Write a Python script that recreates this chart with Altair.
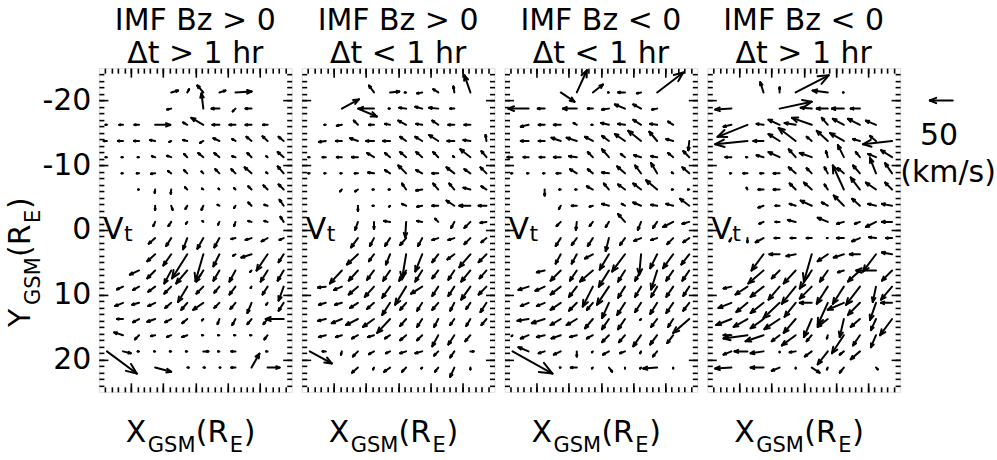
import altair as alt
import pandas as pd

# Bin centres of the velocity grid (R_E)
X_CENTERS = [-33.75, -31.25, -28.75, -26.25, -23.75, -21.25,
             -18.75, -16.25, -13.75, -11.25, -8.75, -6.25]
Y_CENTERS = [-21.25, -18.75, -16.25, -13.75, -11.25, -8.75, -6.25, -3.75, -1.25,
             1.25, 3.75, 6.25, 8.75, 11.25, 13.75, 16.25, 18.75, 21.25]

TITLES = [("IMF Bz > 0", "\u0394t > 1 hr"),
          ("IMF Bz > 0", "\u0394t < 1 hr"),
          ("IMF Bz < 0", "\u0394t < 1 hr"),
          ("IMF Bz < 0", "\u0394t > 1 hr")]

# Mean transverse flow per bin: (column, row, Vx km/s, Vy km/s)
VT_BZN_LONG = [
    (4, 0, 15, -4), (5, 0, 4, -7), (6, 0, -13, -15), (7, 0, 13, -4), (8, 0, 35, -2),
    (4, 1, -9, 2), (6, 1, -4, -33), (7, 1, -17, 0), (8, 1, -6, 6), (9, 1, -13, 0),
    (0, 2, -3, 0), (1, 2, -8, 0), (2, 2, -10, 0), (3, 2, 33, 0), (5, 2, -9, -5), (6, 2, -26, -15),
    (7, 2, -15, 0), (8, 2, -13, 0), (9, 2, -13, 0), (10, 2, -10, 0),
    (0, 3, -7, 0), (1, 3, -11, 0), (2, 3, -11, 0), (3, 3, -11, -2), (4, 3, -4, 2), (5, 3, -9, -2),
    (6, 3, -7, 4), (7, 3, -13, -6), (8, 3, -7, -4), (9, 3, -11, -9), (10, 3, -11, -10), (11, 3, -11, -9),
    (0, 4, -3, 0), (1, 4, -3, 0), (2, 4, -3, 0), (3, 4, -7, -2), (4, 4, -9, -3), (5, 4, -7, -7),
    (6, 4, -11, -9), (7, 4, -11, -9), (8, 4, -7, -2), (9, 4, -9, -9), (10, 4, -3, -2), (11, 4, -13, -11),
    (1, 5, -3, 0), (2, 5, -5, 0), (3, 5, -9, 1), (4, 5, -7, -5), (5, 5, -7, -7), (6, 5, -4, -4),
    (7, 5, -9, -9), (8, 5, -9, -9), (9, 5, -15, -13), (10, 5, -3, -2), (11, 5, -13, -15),
    (2, 6, -2, 0), (3, 6, -1, 7), (4, 6, -1, 9), (5, 6, -5, -5), (6, 6, -3, -2), (7, 6, -2, -2),
    (8, 6, -3, -3), (9, 6, -7, -7), (10, 6, -9, -9), (11, 6, -11, -11),
    (3, 7, 0, 9), (4, 7, 3, 9), (5, 7, -4, 7), (6, 7, -4, 9), (7, 7, -4, -2), (8, 7, -3, 5),
    (9, 7, -7, -7), (10, 7, -7, -2), (11, 7, -9, -13),
    (3, 8, -4, 9), (4, 8, -6, 9), (5, 8, -3, 4), (6, 8, -2, -2), (7, 8, -3, 6), (8, 8, -3, 9),
    (9, 8, -7, -2), (10, 8, -7, -2), (11, 8, -7, -11),
    (3, 9, -14, 12), (4, 9, -11, 17), (5, 9, -9, 24), (6, 9, -13, 23), (7, 9, -11, 20), (8, 9, -9, 2),
    (9, 9, -13, 4), (10, 9, -13, 7), (11, 9, -9, 4),
    (3, 10, -17, 15), (4, 10, -17, 24), (5, 10, -33, 52), (6, 10, -17, 58), (7, 10, -13, 26),
    (8, 10, -5, 3), (9, 10, -22, 7), (10, 10, -24, 35), (11, 10, -11, 17),
    (2, 11, -20, 9), (3, 11, -17, 17), (4, 11, -15, 28), (5, 11, -24, 28), (6, 11, -15, 24),
    (7, 11, -13, 22), (8, 11, -13, 24), (9, 11, -3, 3), (10, 11, -15, 24), (11, 11, -13, 22),
    (1, 12, -13, 6), (2, 12, -13, 7), (3, 12, -15, 11), (4, 12, -15, 15), (5, 12, -20, 33),
    (6, 12, -15, 15), (7, 12, -11, 13), (8, 12, -13, 17), (9, 12, -2, 3), (10, 12, -11, 17), (11, 12, -11, 30),
    (1, 13, -17, 7), (2, 13, -15, 4), (3, 13, -15, 7), (4, 13, -13, 11), (5, 13, -13, 15),
    (6, 13, -22, 15), (7, 13, -11, 11), (8, 13, -11, 13), (9, 13, -9, 22), (10, 13, -3, 4), (11, 13, -11, 17),
    (1, 14, -13, 0), (2, 14, -13, 7), (3, 14, -17, 6), (4, 14, -13, 7), (5, 14, -11, 9), (6, 14, -3, 3),
    (7, 14, -4, 11), (8, 14, -7, 13), (9, 14, -9, 11), (10, 14, -9, 11), (11, 14, -39, 0),
    (1, 15, -19, -6), (2, 15, -9, 9), (3, 15, -9, 2), (4, 15, -9, 4), (5, 15, -11, 4), (6, 15, -3, 0),
    (7, 15, -3, 0), (8, 15, -3, 0), (9, 15, -3, 0), (10, 15, -7, 9),
    (0, 16, 65, 48), (1, 16, 17, 4), (2, 16, -3, 0), (3, 16, -2, 0), (4, 16, -3, 0), (5, 16, -3, 0),
    (6, 16, 11, 0), (7, 16, -3, 0), (8, 16, -9, 0), (10, 16, -3, 0),
    (3, 17, 35, 9), (5, 17, 3, 0), (6, 17, 3, 0), (7, 17, 2, 0), (8, 17, -9, 0), (9, 17, 17, -30),
    (10, 17, 26, 0),
]

VT_BZN_SHORT = [
    (4, 0, -11, -15), (5, 0, 20, -2), (6, 0, -3, 0), (7, 0, -11, 2), (8, 0, -11, -7), (9, 0, -2, -13),
    (10, 0, -13, -37),
    (2, 1, 37, -20), (3, 1, 41, 17), (4, 1, -33, 0), (5, 1, -3, 0), (6, 1, -15, -2), (7, 1, -15, -4),
    (8, 1, -20, -2), (9, 1, -9, 0),
    (1, 2, -3, 0), (2, 2, -11, 2), (3, 2, -9, -9), (4, 2, -11, 0), (5, 2, -11, -2), (6, 2, -17, -9),
    (7, 2, -13, -2), (8, 2, -13, -9), (9, 2, -13, 0), (10, 2, -13, 0),
    (1, 3, -15, 2), (2, 3, -13, 0), (3, 3, -17, -6), (4, 3, -17, 0), (5, 3, -15, 0), (6, 3, -13, -9),
    (7, 3, -15, -9), (8, 3, -20, -13), (9, 3, -15, 0), (10, 3, -15, -2), (11, 3, -2, -13),
    (0, 4, -3, 0), (1, 4, -7, 0), (2, 4, -11, 0), (3, 4, -13, 0), (4, 4, -15, -9), (5, 4, -11, -9),
    (6, 4, -13, -11), (7, 4, -13, -11), (8, 4, -11, -11), (9, 4, -3, -2), (10, 4, -22, -17), (11, 4, -11, -13),
    (0, 5, -3, 0), (1, 5, -3, 0), (2, 5, -3, 0), (3, 5, -7, 0), (4, 5, -13, -2), (5, 5, -11, -7),
    (6, 5, -17, -17), (7, 5, -13, -7), (8, 5, -13, 0), (9, 5, -17, -13), (10, 5, -13, -9), (11, 5, -13, -13),
    (2, 6, -4, 4), (3, 6, -6, 4), (4, 6, -3, 0), (5, 6, -3, 0), (6, 6, -9, -13), (7, 6, -13, 2),
    (8, 6, -11, -13), (9, 6, -11, -13), (10, 6, -15, -4), (11, 6, -11, -7),
    (3, 7, 0, 11), (4, 7, -3, 0), (5, 7, -2, 2), (6, 7, -9, -4), (7, 7, -11, 2), (8, 7, -13, 0),
    (9, 7, -17, -11), (10, 7, -24, 0), (11, 7, -17, 0),
    (3, 8, -6, 17), (4, 8, 0, 15), (5, 8, -13, -2), (6, 8, -2, 33), (7, 8, -11, -2), (8, 8, -7, -7),
    (9, 8, -7, 13), (10, 8, -13, 13), (11, 8, -13, 2),
    (3, 9, -15, 20), (4, 9, -9, 17), (5, 9, -11, 17), (6, 9, -13, 15), (7, 9, -9, 17), (8, 9, -13, 4),
    (9, 9, -13, 4), (10, 9, -13, 13), (11, 9, -11, 9),
    (3, 10, -24, 22), (4, 10, -11, 15), (5, 10, -9, 22), (6, 10, -9, 54), (7, 10, -15, 37),
    (8, 10, -13, 17), (9, 10, -15, 11), (10, 10, -24, 28), (11, 10, -17, 17),
    (2, 11, -26, 28), (3, 11, -20, 22), (4, 11, -15, 20), (5, 11, -15, 22), (6, 11, -15, 22),
    (7, 11, -15, 24), (8, 11, -13, 17), (9, 11, -13, 20), (10, 11, -20, 24), (11, 11, -15, 17),
    (1, 12, -17, 2), (2, 12, -17, 7), (3, 12, -20, 17), (4, 12, -20, 22), (5, 12, -17, 24),
    (6, 12, -24, 39), (7, 12, -24, 15), (8, 12, -13, 20), (9, 12, -13, 20), (10, 12, -20, 28), (11, 12, -17, 17),
    (1, 13, -15, 4), (2, 13, -15, 4), (3, 13, -17, 11), (4, 13, -15, 13), (5, 13, -17, 26),
    (6, 13, -13, 15), (7, 13, -11, 17), (8, 13, -13, 15), (9, 13, -9, 17), (10, 13, -9, 13), (11, 13, -13, 20),
    (1, 14, -17, 4), (2, 14, -22, 9), (3, 14, -26, 13), (4, 14, -24, 17), (5, 14, -28, 30),
    (6, 14, -13, 15), (7, 14, -11, 17), (8, 14, -9, 17), (9, 14, -9, 13), (10, 14, -9, 15), (11, 14, -11, 13),
    (1, 15, -15, 4), (2, 15, -13, 4), (3, 15, -13, 7), (4, 15, -13, 4), (5, 15, -11, 7), (6, 15, -13, 11),
    (7, 15, -11, 11), (8, 15, -13, 24), (9, 15, -13, 20), (10, 15, -11, 13),
    (0, 16, 48, 26), (1, 16, -7, 0), (2, 16, -2, 7), (3, 16, -11, 11), (4, 16, -11, 6), (5, 16, -9, 4),
    (6, 16, -13, 4), (7, 16, -15, 4), (8, 16, -9, 9), (9, 16, -9, 13), (10, 16, 7, 0),
    (3, 17, -13, 11), (4, 17, -2, 4), (5, 17, -13, 9), (6, 17, -9, 9), (7, 17, -2, 2), (8, 17, -7, 9),
    (9, 17, -9, 20), (10, 17, 0, 4),
]

VT_BZS_SHORT = [
    (3, 0, 30, 20), (4, 0, 22, -48), (5, 0, 22, -17), (6, 0, -2, 0), (7, 0, -15, 0), (8, 0, -9, 2),
    (9, 0, 57, -43),
    (1, 1, -44, 0), (2, 1, -15, 0), (4, 1, -30, 0), (5, 1, -11, 0), (6, 1, -15, 2), (7, 1, -22, -9),
    (8, 1, -17, -9), (9, 1, -11, 2),
    (1, 2, -17, 4), (2, 2, -13, 0), (3, 2, -15, 0), (4, 2, -7, -4), (5, 2, -3, 0), (6, 2, -17, -4),
    (7, 2, -15, -2), (8, 2, -17, -11), (9, 2, -15, -2), (10, 2, -11, -7),
    (1, 3, -17, 0), (2, 3, -13, 0), (3, 3, -20, -7), (4, 3, -22, -7), (5, 3, -17, -9), (6, 3, -15, -11),
    (7, 3, -22, -15), (8, 3, -28, -22), (9, 3, -17, -20), (10, 3, -15, -4), (11, 3, -2, 20),
    (0, 4, -11, 0), (1, 4, -11, 0), (2, 4, -11, 0), (3, 4, -15, 0), (4, 4, -17, -2), (5, 4, -11, -11),
    (6, 4, -15, -17), (7, 4, -9, -7), (8, 4, -15, -4), (9, 4, -13, -2), (10, 4, -11, -9), (11, 4, -13, -13),
    (0, 5, -3, 0), (1, 5, -3, 0), (2, 5, -3, 0), (3, 5, -9, 0), (4, 5, -15, -9), (5, 5, -11, -9),
    (6, 5, -15, -2), (7, 5, -17, -15), (8, 5, -13, -17), (9, 5, -13, -22), (10, 5, -3, -2), (11, 5, -15, -13),
    (2, 6, 0, 13), (3, 6, -3, 0), (4, 6, -3, 0), (5, 6, -13, -7), (6, 6, -11, -13), (7, 6, -15, -11),
    (8, 6, -17, -13), (9, 6, -24, -20), (10, 6, -3, 0), (11, 6, -3, 0),
    (3, 7, -4, 7), (4, 7, -11, 0), (5, 7, -7, 2), (6, 7, -15, -4), (7, 7, -7, -4), (8, 7, -17, -7),
    (9, 7, -13, -2), (10, 7, -15, -4), (11, 7, -20, -15),
    (3, 8, -9, 9), (4, 8, -2, 17), (5, 8, -7, 9), (6, 8, -7, 11), (7, 8, -15, -17), (8, 8, -7, 17),
    (9, 8, -9, 13), (10, 8, -22, 11), (11, 8, -15, 4),
    (3, 9, -11, 17), (4, 9, -11, 15), (5, 9, -11, 17), (6, 9, -7, 28), (7, 9, -11, 15), (8, 9, -15, 6),
    (9, 9, -13, 4), (10, 9, -13, 13), (11, 9, -13, 9),
    (3, 10, -11, 20), (4, 10, -11, 20), (5, 10, -17, 9), (6, 10, -20, 33), (7, 10, -28, 37),
    (8, 10, -4, 44), (9, 10, -15, 30), (10, 10, -22, 30), (11, 10, -17, 22),
    (2, 11, -17, 4), (3, 11, -22, 22), (4, 11, -15, 22), (5, 11, -28, 24), (6, 11, -22, 35),
    (7, 11, -15, 24), (8, 11, -13, 22), (9, 11, -13, 41), (10, 11, -15, 22), (11, 11, -15, 22),
    (1, 12, -22, 7), (2, 12, -20, 9), (3, 12, -22, 17), (4, 12, -17, 22), (5, 12, -22, 43),
    (6, 12, -26, 39), (7, 12, -15, 24), (8, 12, -13, 22), (9, 12, -13, 22), (10, 12, -15, 22), (11, 12, -13, 20),
    (1, 13, -17, 7), (2, 13, -17, 7), (3, 13, -22, 15), (4, 13, -17, 17), (5, 13, -13, 15),
    (6, 13, -15, 33), (7, 13, -17, 26), (8, 13, -13, 20), (9, 13, -15, 24), (10, 13, -15, 22), (11, 13, -13, 17),
    (1, 14, -24, 4), (2, 14, -28, 9), (3, 14, -22, 13), (4, 14, -22, 13), (5, 14, -17, 20),
    (6, 14, -15, 22), (7, 14, -15, 22), (8, 14, -2, 2), (9, 14, -13, 17), (10, 14, -11, 17), (11, 14, -35, 30),
    (0, 15, -2, 2), (1, 15, -17, 7), (2, 15, -17, 4), (3, 15, -20, 7), (4, 15, -15, 4), (5, 15, -13, 7),
    (6, 15, -15, 15), (7, 15, -13, 15), (8, 15, -17, 24), (9, 15, -15, 20), (10, 15, -13, 17),
    (0, 16, 87, 48), (1, 16, -22, -9), (2, 16, -13, 4), (3, 16, -15, 7), (4, 16, 0, 11), (5, 16, -2, 2),
    (6, 16, -13, 7), (7, 16, -11, 4), (8, 16, -2, 4), (9, 16, -9, 11),
    (3, 17, -2, 0), (4, 17, -13, 0), (5, 17, -2, 2), (6, 17, 7, 9), (7, 17, 0, 2), (8, 17, -2, 2),
    (9, 17, -30, 2), (10, 17, 0, 2),
]

VT_BZS_LONG = [
    (3, 0, -7, -22), (4, 0, 0, -11), (5, 0, 72, -37), (7, 0, -33, -4), (8, 0, -2, 0),
    (1, 1, -35, 2), (4, 1, 70, -15), (6, 1, -24, -2), (7, 1, -24, 0), (8, 1, -26, 0), (9, 1, -20, 0),
    (1, 2, -17, 4), (2, 2, -65, 26), (3, 2, -15, -2), (4, 2, -24, -11), (5, 2, -24, -4), (6, 2, -43, -15),
    (7, 2, -13, -15), (8, 2, -24, -13), (9, 2, -26, -13), (10, 2, -22, -9),
    (2, 3, -70, 7), (3, 3, -22, 0), (4, 3, -24, -15), (5, 3, -37, -28), (6, 3, -11, -9), (7, 3, -24, -22),
    (8, 3, -30, -17), (9, 3, -15, -4), (10, 3, -13, -11), (11, 3, -63, 7),
    (1, 4, -13, 0), (2, 4, -3, 0), (3, 4, -15, -4), (4, 4, -24, -11), (5, 4, -15, -17), (6, 4, -26, -9),
    (7, 4, -4, -13), (8, 4, -13, -26), (9, 4, -9, -11), (10, 4, -17, -7), (11, 4, -24, -15),
    (1, 5, -3, 0), (2, 5, -9, 0), (3, 5, -7, 0), (4, 5, -13, 0), (5, 5, -15, -13), (6, 5, -11, -11),
    (7, 5, -7, -13), (8, 5, -13, -11), (9, 5, -15, -17), (10, 5, -13, -33), (11, 5, -15, -22),
    (2, 6, -2, -4), (3, 6, -11, 0), (4, 6, -13, 0), (5, 6, -13, -13), (6, 6, -17, -15), (7, 6, -7, -11),
    (8, 6, -24, -52), (9, 6, -20, -26), (10, 6, -22, -15), (11, 6, -15, -15),
    (3, 7, -11, 4), (4, 7, -9, 0), (5, 7, -13, -4), (6, 7, -24, -11), (7, 7, -13, -7), (8, 7, -22, -22),
    (9, 7, -17, -15), (10, 7, -17, -4), (11, 7, -22, -4),
    (3, 8, -9, 4), (4, 8, -9, 0), (5, 8, -17, -4), (7, 8, -22, -9), (8, 8, -15, 4), (9, 8, -11, 4),
    (10, 8, -22, 11), (11, 8, -22, 0),
    (1, 9, -4, 7), (2, 9, 0, 9), (3, 9, -17, 9), (4, 9, -11, 0), (5, 9, -11, 0), (6, 9, -11, 0),
    (7, 9, -2, 0), (8, 9, -15, 0), (9, 9, -17, 7), (10, 9, -15, -2), (11, 9, -13, 0),
    (3, 10, -26, 35), (4, 10, -22, 0), (5, 10, -20, 4), (6, 10, -17, 59), (7, 10, -22, 15),
    (8, 10, -22, 7), (9, 10, -22, 0), (10, 10, -28, 37), (11, 10, -22, -4),
    (3, 11, -33, 28), (4, 11, -17, 17), (5, 11, -26, 28), (6, 11, -26, 39), (7, 11, -17, 24),
    (8, 11, -13, 4), (9, 11, -26, 24), (10, 11, -43, 0), (11, 11, -22, 22),
    (1, 12, -17, 4), (2, 12, -26, 17), (3, 12, -28, 22), (4, 12, -24, 28), (5, 12, -30, 37),
    (6, 12, -26, 26), (7, 12, -24, 37), (8, 12, -24, 37), (9, 12, -30, 39), (10, 12, -7, 33), (11, 12, -24, 28),
    (1, 13, -28, 11), (2, 13, -24, 20), (3, 13, -28, 22), (4, 13, -35, 33), (5, 13, -24, 30),
    (6, 13, -26, 0), (7, 13, -22, 48), (8, 13, -35, 15), (9, 13, -26, 26), (10, 13, -13, 37), (11, 13, -24, 0),
    (1, 14, -33, 13), (2, 14, -30, 17), (3, 14, -28, 20), (4, 14, -33, 22), (5, 14, -26, 30),
    (6, 14, -17, 39), (7, 14, -22, 17), (8, 14, -9, 39), (9, 14, -20, 17), (10, 14, -11, 24), (11, 14, -26, 35),
    (1, 15, -17, 0), (2, 15, -52, 7), (3, 15, -39, 13), (4, 15, -17, 13), (5, 15, -30, 22),
    (6, 15, -11, 13), (7, 15, -2, 7), (8, 15, -26, 39), (9, 15, -15, 22), (10, 15, -11, 26),
    (1, 16, -17, 7), (2, 16, -28, 0), (3, 16, -28, 4), (4, 16, 0, 2), (5, 16, -13, 2), (6, 16, -15, 11),
    (7, 16, -22, 28), (8, 16, -9, 7), (9, 16, -20, 17),
    (1, 17, -35, 2), (3, 17, -28, 0), (4, 17, -17, 7), (5, 17, 0, 2), (6, 17, 17, 11), (7, 17, -2, 4),
    (8, 17, -9, 11), (10, 17, 4, 4),
]

PANEL_VECTORS = [VT_BZN_LONG, VT_BZN_SHORT, VT_BZS_SHORT, VT_BZS_LONG]

# Reference vector drawn beside the last panel: 50 km/s pointing in -X
REF_SPEED = 50
REF_POS = (3.2, -20.0)

X_DOMAIN = [-35, -5]
Y_DOMAIN = [-25, 25]
X_MAJOR = [-30, -25, -20, -15, -10]
X_MINOR = list(range(-34, -5))
Y_MAJOR = [-20, -10, 0, 10, 20]
Y_MINOR = list(range(-24, 25))

W, H = 193, 324
RE_PER_KMS = 3.57 / 50          # arrow length scale (R_E per km/s)
HEAD_FRAC = 0.3                 # arrow head length relative to the arrow
COS_H, SIN_H = 0.9239, 0.3827   # head half-angle of 22.5 degrees
FONT = "DejaVu Sans"

xs = alt.Scale(domain=X_DOMAIN, nice=False, zero=False)
ys = alt.Scale(domain=Y_DOMAIN, reverse=True, nice=False, zero=False)

rows = []
for p, vecs in enumerate(PANEL_VECTORS):
    for c, r, vx, vy in vecs:
        rows.append({"panel": p, "X": X_CENTERS[c], "Y": Y_CENTERS[r], "vx": vx, "vy": vy})
rows.append({"panel": 3, "X": REF_POS[0], "Y": REF_POS[1], "vx": -REF_SPEED, "vy": 0})
vec_df = pd.DataFrame(rows)
one = pd.DataFrame({"k": [0]})


def arrows(p):
    k = RE_PER_KMS
    hk = HEAD_FRAC * RE_PER_KMS
    base = alt.Chart(vec_df).transform_filter(alt.datum.panel == p).transform_calculate(
        xt=f"datum.X + datum.vx*{k}",
        yt=f"datum.Y + datum.vy*{k}",
    ).transform_calculate(
        b1x=f"datum.xt - {hk}*(datum.vx*{COS_H} - datum.vy*{SIN_H})",
        b1y=f"datum.yt - {hk}*(datum.vx*{SIN_H} + datum.vy*{COS_H})",
        b2x=f"datum.xt - {hk}*(datum.vx*{COS_H} + datum.vy*{SIN_H})",
        b2y=f"datum.yt - {hk}*(-datum.vx*{SIN_H} + datum.vy*{COS_H})",
    )
    style = dict(color="black", strokeWidth=2, strokeCap="round")
    shafts = base.mark_rule(**style).encode(
        x=alt.X("X:Q", scale=xs, axis=None),
        y=alt.Y("Y:Q", scale=ys, axis=None),
        x2="xt:Q", y2="yt:Q",
    )
    barb1 = base.mark_rule(**style).encode(
        x=alt.X("xt:Q", scale=xs, axis=None),
        y=alt.Y("yt:Q", scale=ys, axis=None),
        x2="b1x:Q", y2="b1y:Q",
    )
    barb2 = base.mark_rule(**style).encode(
        x=alt.X("xt:Q", scale=xs, axis=None),
        y=alt.Y("yt:Q", scale=ys, axis=None),
        x2="b2x:Q", y2="b2y:Q",
    )
    return [shafts, barb1, barb2]


def tick_layer(xorient, yorient, xvals, yvals, size, labels=False):
    ax_common = dict(domain=False, grid=False, ticks=True, tickColor="black",
                     tickWidth=1.6, tickSize=size, offset=-size, title=None)
    if labels:
        yax = alt.Axis(orient=yorient, values=yvals, labels=True, labelFont=FONT,
                       labelFontSize=30, labelColor="black", labelPadding=8,
                       labelExpr="'' + datum.value", **ax_common)
    else:
        yax = alt.Axis(orient=yorient, values=yvals, labels=False, **ax_common)
    return alt.Chart(one).mark_point(opacity=0).encode(
        x=alt.X("k:Q", scale=xs, axis=alt.Axis(orient=xorient, values=xvals, labels=False, **ax_common)),
        y=alt.Y("k:Q", scale=ys, axis=yax),
    )


def txt(text, x, y, size, align="left", angle=0):
    kw = dict(text=text, font=FONT, fontSize=size, color="black", align=align,
              baseline="alphabetic")
    if angle:
        kw["angle"] = angle
    return alt.Chart(one).mark_text(**kw).encode(x=alt.value(x), y=alt.value(y))


def subscripted(parts, x0, y0, angle=0):
    # parts: (text, font size, baseline shift, advance)
    out = []
    pos = 0
    for t, fs, shift, adv in parts:
        if angle:
            out.append(txt(t, x0 + shift, y0 - pos, fs, angle=angle))
        else:
            out.append(txt(t, x0 + pos, y0 + shift, fs))
        pos += adv
    return out


LABEL_PARTS = [("X", 30, 0, 22), ("GSM", 21, 10, 48), ("(R", 30, 0, 34), ("E", 21, 10, 14), (")", 30, 0, 12)]
YLABEL_PARTS = [("Y", 30, 0, 22), ("GSM", 21, 10, 48), ("(R", 30, 0, 34), ("E", 21, 10, 14), (")", 30, 0, 12)]


def panel(p):
    layers = arrows(p)
    layers += [
        tick_layer("bottom", "left", X_MAJOR, Y_MAJOR, 9, labels=(p == 0)),
        tick_layer("top", "right", X_MAJOR, Y_MAJOR, 9),
        tick_layer("bottom", "left", X_MINOR, Y_MINOR, 5),
        tick_layer("top", "right", X_MINOR, Y_MINOR, 5),
    ]
    t1, t2 = TITLES[p]
    layers += [txt(t1, W / 2, -38, 30, align="center"), txt(t2, W / 2, -5, 30, align="center")]
    layers += subscripted([("V", 30, 0, 21), ("t", 22, 2, 10)], 4, 171)
    layers += subscripted(LABEL_PARTS, 27, 374)
    if p == 0:
        layers += subscripted(YLABEL_PARTS, -69, 259, angle=270)
    if p == 3:
        layers += [txt("50", 232, 77, 30, align="center"),
                   txt("(km/s)", 241, 114, 30, align="center")]
    return alt.layer(*layers).resolve_axis(x="independent", y="independent").properties(width=W, height=H)


chart = alt.hconcat(*[panel(p) for p in range(4)], spacing=10, bounds="flush").properties(
    padding={"left": 5, "top": 5, "right": 0, "bottom": 0}
).configure_view(stroke="black", strokeWidth=2).configure(background="white")

chart.save("out.html", embed_options={"renderer": "svg", "actions": False})
